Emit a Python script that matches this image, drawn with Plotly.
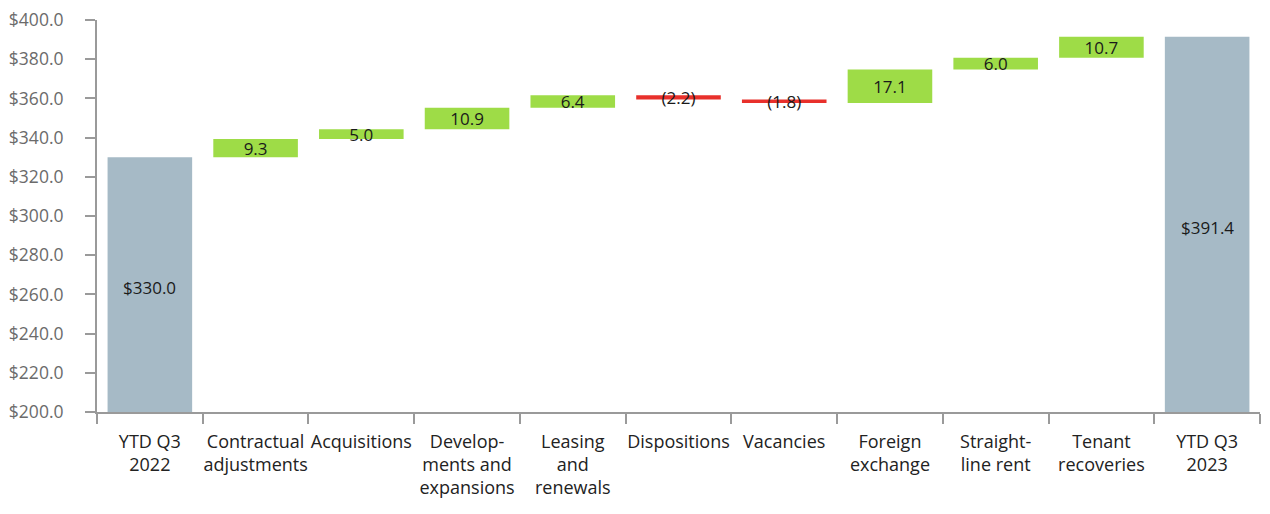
import plotly.graph_objects as go

categories = ["YTD Q3<br>2022", "Contractual<br>adjustments", "Acquisitions",
              "Develop-<br>ments and<br>expansions", "Leasing<br>and<br>renewals",
              "Dispositions", "Vacancies", "Foreign<br>exchange", "Straight-<br>line rent",
              "Tenant<br>recoveries", "YTD Q3<br>2023"]
values = [330.0, 9.3, 5.0, 10.9, 6.4, -2.2, -1.8, 17.1, 6.0, 10.7, 391.4]
measures = ["absolute"] + ["relative"] * 9 + ["total"]
y_ticks = [200, 220, 240, 260, 280, 300, 320, 340, 360, 380, 400]
y_range = [200, 400]

DOLLAR = "&#36;"
LABEL_FONT = dict(family="Open Sans", size=17, color="#1a1a1a")

def fmt(v):
    return f"({abs(v):.1f})" if v < 0 else f"{v:.1f}"

texts = [fmt(v) if m == "relative" else "" for v, m in zip(values, measures)]
y_tick_text = [f"{DOLLAR}{v:.1f}" for v in y_ticks]

fig = go.Figure(go.Waterfall(
    x=categories, y=values, measure=measures,
    text=texts, textposition="inside", insidetextanchor="middle",
    constraintext="none",
    textfont=LABEL_FONT,
    increasing=dict(marker=dict(color="#9edc47")),
    decreasing=dict(marker=dict(color="#e8302b")),
    totals=dict(marker=dict(color="#a6bac6")),
    connector=dict(visible=False),
))

# labels for the total bars, centred in the visible part of each bar
for c, v, m in zip(categories, values, measures):
    if m != "relative":
        fig.add_annotation(x=c, y=(y_range[0] + v) / 2 - 1.5, text=f"{DOLLAR}{v:.1f}",
                           showarrow=False, font=LABEL_FONT)

fig.update_layout(
    width=1262, height=506,
    margin=dict(l=89, r=10, t=12, b=102),
    paper_bgcolor="white", plot_bgcolor="white",
    bargap=0.2, showlegend=False,
    font=dict(family="Open Sans", size=18),
)
fig.update_xaxes(
    type="category", tickson="boundaries", ticks="outside", ticklen=10,
    tickcolor="#9a9a9a", tickwidth=2, showline=True, linecolor="#9a9a9a", linewidth=2,
    tickfont=dict(family="Open Sans", size=18, color="#222222"), showgrid=False,
    automargin=False, tickangle=0, ticklabelstandoff=12,
)
fig.update_yaxes(
    range=y_range, tickmode="array", tickvals=y_ticks, ticktext=y_tick_text,
    ticks="outside", ticklen=10, tickcolor="#9a9a9a", tickwidth=2,
    showline=True, linecolor="#9a9a9a", linewidth=2, showgrid=False, zeroline=False,
    tickfont=dict(family="Open Sans", size=17.5, color="#6b6b6b"),
    automargin=False, ticklabeloverflow="allow", ticklabelstandoff=18,
)
fig.write_html("out.html")
